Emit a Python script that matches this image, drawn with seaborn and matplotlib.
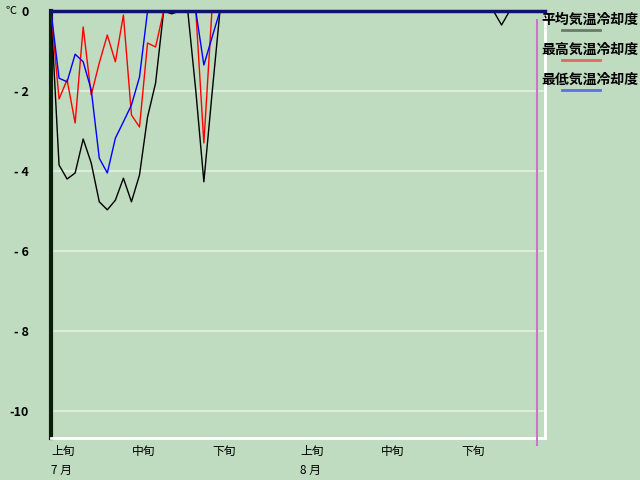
import numpy as np
import pandas as pd
import seaborn as sns
import matplotlib.pyplot as plt
from matplotlib.lines import Line2D

# days since July 1 (0..61 = Jul 1 .. Aug 31)
days = list(range(62))
avg_cool = [0, -3.85, -4.2, -4.05, -3.2, -3.8, -4.77, -4.97, -4.73, -4.18,
            -4.77, -4.1, -2.65, -1.8, 0, -0.07, 0, 0, -2.0, -4.27,
            -2.1, 0, 0, 0, 0, 0, 0, 0, 0, 0,
            0, 0, 0, 0, 0, 0, 0, 0, 0, 0,
            0, 0, 0, 0, 0, 0, 0, 0, 0, 0,
            0, 0, 0, 0, 0, 0, -0.35, 0, 0, 0,
            0, 0]
max_cool = [0, -2.2, -1.72, -2.8, -0.4, -2.1, -1.3, -0.6, -1.27, -0.1,
            -2.6, -2.9, -0.8, -0.9, 0, 0, 0, 0, 0, -3.3,
            0, 0, 0, 0, 0, 0, 0, 0, 0, 0,
            0, 0, 0, 0, 0, 0, 0, 0, 0, 0,
            0, 0, 0, 0, 0, 0, 0, 0, 0, 0,
            0, 0, 0, 0, 0, 0, 0, 0, 0, 0,
            0, 0]
min_cool = [0, -1.68, -1.77, -1.08, -1.27, -1.97, -3.68, -4.05, -3.18, -2.77,
            -2.35, -1.65, 0, 0, 0, 0, 0, 0, 0, -1.35,
            -0.67, 0, 0, 0, 0, 0, 0, 0, 0, 0,
            0, 0, 0, 0, 0, 0, 0, 0, 0, 0,
            0, 0, 0, 0, 0, 0, 0, 0, 0, 0,
            0, 0, 0, 0, 0, 0, 0, 0, 0, 0,
            0, 0]
series_names = ['平均気温冷却度', '最高気温冷却度', '最低気温冷却度']
tick_days = [0, 10, 20, 31, 41, 51]
tick_labels = ['上旬', '中旬', '下旬', '上旬', '中旬', '下旬']
month_days = [0, 31]
month_labels = ['7 月', '8 月']
y_ticks = [0, -2, -4, -6, -8, -10]
y_labels = ['0', '- 2', '- 4', '- 6', '- 8', '-10']
today = 60.4

bg = '#c0dcc0'
plt.rcParams['font.family'] = ['Noto Sans CJK JP', 'DejaVu Sans']

fig = plt.figure(figsize=(6.4, 4.8), dpi=100, facecolor=bg)
ax = fig.add_axes([51 / 640, 1 - 438 / 480, 494 / 640, 427 / 480])
ax.set_facecolor(bg)

df = pd.DataFrame({'day': days, 'avg': avg_cool, 'max': max_cool, 'min': min_cool})
sns.lineplot(data=df, x='day', y='avg', ax=ax, color='black', lw=1, zorder=3)
sns.lineplot(data=df, x='day', y='max', ax=ax, color='#ff0000', lw=1, zorder=3)
sns.lineplot(data=df, x='day', y='min', ax=ax, color='#0000ff', lw=1, zorder=3)

ax.set_xlim(0, 61.4)
ax.set_ylim(-10.675, 0)
ax.set_xlabel('')
ax.set_ylabel('')

for y in y_ticks[1:]:
    ax.axhline(y, color='#e2eee2', lw=1.3, zorder=1)

ax.plot([today, today], [-0.22, -10.85], color='#d070d0', lw=1.5, clip_on=False, zorder=3)

ax.spines['left'].set_color('#0a1e0a')
ax.spines['left'].set_linewidth(3)
ax.spines['top'].set_color('#101070')
ax.spines['top'].set_linewidth(2.5)
ax.spines['top'].set_zorder(4)
ax.spines['right'].set_color('white')
ax.spines['right'].set_linewidth(2)
ax.spines['bottom'].set_color('white')
ax.spines['bottom'].set_linewidth(2)

ax.set_yticks(y_ticks)
ax.set_yticklabels(y_labels, fontsize=9, fontweight='bold')
ax.tick_params(axis='y', length=0, pad=16)
ax.set_xticks(tick_days)
ax.set_xticklabels(tick_labels, fontsize=8.5, ha='left')
ax.tick_params(axis='x', length=0, pad=5)
for lab in ax.get_xticklabels():
    lab.set_x(lab.get_position()[0])

for d, lab in zip(month_days, month_labels):
    ax.text(d, -11.48, lab, fontsize=8.5, ha='left', va='center')

fig.text(5 / 640, 1 - 11 / 480, '℃', fontsize=8, va='center', ha='left')

leg_colors = ['#6a7a6a', '#e06868', '#6070e0']
for i, (name, c) in enumerate(zip(series_names, leg_colors)):
    ty = 1 - (20 + 30 * i) / 480
    fig.text(541 / 640, ty, name, fontsize=10, fontweight='bold', va='center', ha='left')
    ly = 1 - (30 + 30 * i) / 480
    fig.add_artist(Line2D([562 / 640, 600 / 640], [ly, ly], color=c, lw=2))

fig.savefig('out.png', dpi=100, facecolor=bg)
